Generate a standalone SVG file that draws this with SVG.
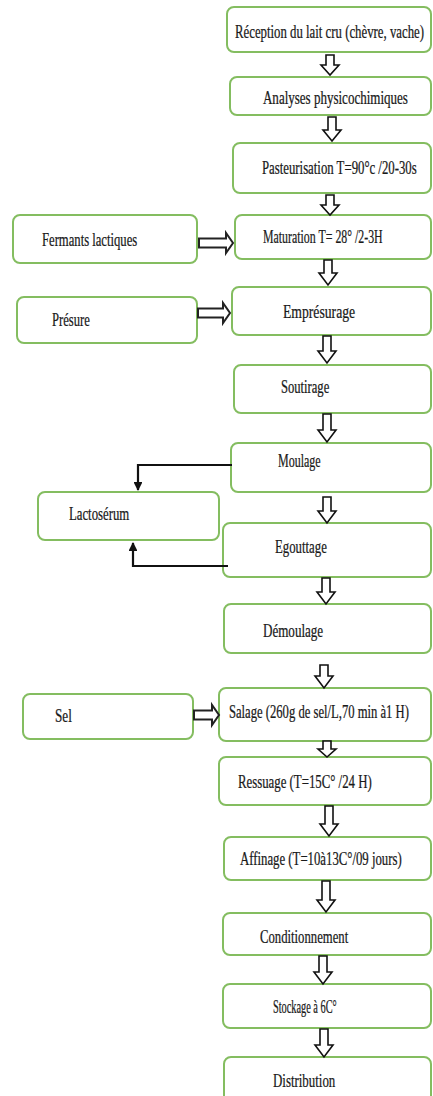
<svg xmlns="http://www.w3.org/2000/svg" width="433" height="1096" viewBox="0 0 433 1096">
<defs>
<style>
.box{fill:#fff;stroke:#84bd60;stroke-width:2}
.t{font-family:"Liberation Serif","Times New Roman",serif;font-size:18px;fill:#1a1a1a;stroke:#1a1a1a;stroke-width:0.25}
.da{fill:#fff;stroke:#111;stroke-width:1.6;stroke-linejoin:miter}
.ra{fill:#fff;stroke:#222;stroke-width:2}
.ln{fill:none;stroke:#111;stroke-width:2.2}
</style>
<marker id="ah" viewBox="0 0 10 10" refX="9" refY="5" markerWidth="4" markerHeight="4" orient="auto-start-reverse" markerUnits="strokeWidth">
<path d="M0,0 L10,5 L0,10 z" fill="#111"/>
</marker>
</defs>
<rect width="433" height="1096" fill="#fff"/>

<g id="n1"><rect class="box" x="227" y="7" width="204" height="45" rx="7"/><text class="t" transform="scale(0.7 1)" x="335.7" y="38" textLength="270" lengthAdjust="spacingAndGlyphs">Réception du lait cru (chèvre, vache)</text></g>
<g id="n2"><rect class="box" x="230" y="77" width="201" height="38" rx="7"/><text class="t" transform="scale(0.7 1)" x="375.7" y="104" textLength="207" lengthAdjust="spacingAndGlyphs">Analyses physicochimiques</text></g>
<g id="n3"><rect class="box" x="233" y="143" width="198" height="50" rx="7"/><text class="t" transform="scale(0.7 1)" x="374.3" y="174" textLength="221" lengthAdjust="spacingAndGlyphs">Pasteurisation T=90°c /20-30s</text></g>
<g id="n4"><rect class="box" x="235" y="215" width="196" height="44" rx="7"/><text class="t" transform="scale(0.7 1)" x="375.7" y="243" textLength="171" lengthAdjust="spacingAndGlyphs">Maturation T= 28° /2-3H</text></g>
<g id="n5"><rect class="box" x="232" y="287" width="199" height="48" rx="7"/><text class="t" transform="scale(0.7 1)" x="404.3" y="318" textLength="103" lengthAdjust="spacingAndGlyphs">Emprésurage</text></g>
<g id="n6"><rect class="box" x="234" y="365" width="197" height="48" rx="7"/><text class="t" transform="scale(0.7 1)" x="401.4" y="393" textLength="69" lengthAdjust="spacingAndGlyphs">Soutirage</text></g>
<g id="n7"><rect class="box" x="231" y="443" width="200" height="49" rx="7"/><text class="t" transform="scale(0.7 1)" x="397.1" y="467" textLength="61" lengthAdjust="spacingAndGlyphs">Moulage</text></g>
<g id="n8"><rect class="box" x="38" y="492" width="181" height="48" rx="7"/><text class="t" transform="scale(0.7 1)" x="98.6" y="520" textLength="86" lengthAdjust="spacingAndGlyphs">Lactosérum</text></g>
<g id="n9"><rect class="box" x="223" y="523" width="208" height="54" rx="7"/><text class="t" transform="scale(0.7 1)" x="392.9" y="553" textLength="74" lengthAdjust="spacingAndGlyphs">Egouttage</text></g>
<g id="n10"><rect class="box" x="224" y="604" width="207" height="49" rx="7"/><text class="t" transform="scale(0.7 1)" x="375.7" y="637" textLength="86" lengthAdjust="spacingAndGlyphs">Démoulage</text></g>
<g id="n11"><rect class="box" x="219" y="688" width="212" height="53" rx="7"/><text class="t" transform="scale(0.7 1)" x="327.1" y="718" textLength="257" lengthAdjust="spacingAndGlyphs">Salage (260g de sel/L,70 min à1 H)</text></g>
<g id="n12"><rect class="box" x="219" y="757" width="212" height="48" rx="7"/><text class="t" transform="scale(0.7 1)" x="340" y="788" textLength="191" lengthAdjust="spacingAndGlyphs">Ressuage (T=15C° /24 H)</text></g>
<g id="n13"><rect class="box" x="224" y="837" width="207" height="43" rx="7"/><text class="t" transform="scale(0.7 1)" x="342.9" y="865" textLength="231" lengthAdjust="spacingAndGlyphs">Affinage (T=10à13C°/09 jours)</text></g>
<g id="n14"><rect class="box" x="223" y="913" width="208" height="42" rx="7"/><text class="t" transform="scale(0.7 1)" x="371.4" y="943" textLength="126" lengthAdjust="spacingAndGlyphs">Conditionnement</text></g>
<g id="n15"><rect class="box" x="223" y="984" width="208" height="44" rx="7"/><text class="t" transform="scale(0.7 1)" x="390" y="1013" textLength="91" lengthAdjust="spacingAndGlyphs">Stockage à 6C°</text></g>
<g id="n16"><rect class="box" x="224" y="1057" width="207" height="50" rx="7"/><text class="t" transform="scale(0.7 1)" x="390" y="1087" textLength="89" lengthAdjust="spacingAndGlyphs">Distribution</text></g>
<g id="s1"><rect class="box" x="13" y="215" width="184" height="48" rx="7"/><text class="t" transform="scale(0.7 1)" x="60" y="246" textLength="136" lengthAdjust="spacingAndGlyphs">Fermants lactiques</text></g>
<g id="s2"><rect class="box" x="17" y="297" width="180" height="46" rx="7"/><text class="t" transform="scale(0.7 1)" x="74.3" y="326" textLength="54" lengthAdjust="spacingAndGlyphs">Présure</text></g>
<g id="s3"><rect class="box" x="23" y="694" width="170" height="45" rx="7"/><text class="t" transform="scale(0.7 1)" x="78.6" y="722" textLength="24" lengthAdjust="spacingAndGlyphs">Sel</text></g>

<g id="connectors">
<polygon class="da" points="326,55 334,55 334,65 339,65 330,75 321,65 326,65"/>
<polygon class="da" points="328,117 336,117 336,130 341,130 332,141 323,130 328,130"/>
<polygon class="da" points="326,195 334,195 334,205 339,205 330,215 321,205 326,205"/>
<polygon class="da" points="324,260 332,260 332,273 337,273 328,285 319,273 324,273"/>
<polygon class="da" points="323,336 331,336 331,351 336,351 327,363 318,351 323,351"/>
<polygon class="da" points="323,414 331,414 331,430 336,430 327,442 318,430 323,430"/>
<polygon class="da" points="323,497 331,497 331,511 336,511 327,523 318,511 323,511"/>
<polygon class="da" points="322,578 330,578 330,592 335,592 326,604 317,592 322,592"/>
<polygon class="da" points="320,665 328,665 328,676 333,676 324,688 315,676 320,676"/>
<polygon class="da" points="323,741 331,741 331,749 336,749 327,757 318,749 323,749"/>
<polygon class="da" points="325,806 333,806 333,824 338,824 329,836 320,824 325,824"/>
<polygon class="da" points="322,881 330,881 330,900 335,900 326,912 317,900 322,900"/>
<polygon class="da" points="319,956 327,956 327,972 332,972 323,984 314,972 319,972"/>
<polygon class="da" points="320,1029 328,1029 328,1045 333,1045 324,1057 315,1045 320,1045"/>
<polygon class="ra" points="199,238.5 226,238.5 226,233 233,243 226,253 226,247.5 199,247.5"/>
<polygon class="ra" points="198,308.5 223,308.5 223,303 230,313 223,323 223,317.5 198,317.5"/>
<polygon class="ra" points="194,710.5 212,710.5 212,705 219,715 212,725 212,719.5 194,719.5"/>
<path class="ln" d="M232,465 H138 V490" marker-end="url(#ah)"/>
<path class="ln" d="M228,566 H133 V543" marker-end="url(#ah)"/>
</g>
</svg>
